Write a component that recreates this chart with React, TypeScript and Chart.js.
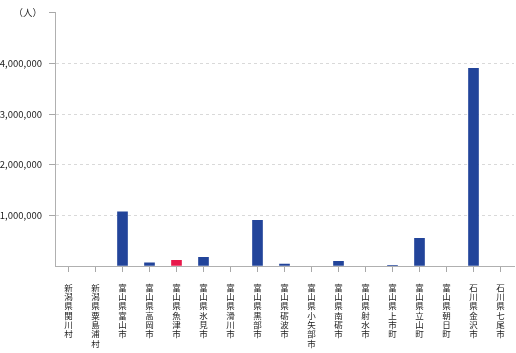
import React, { useEffect, useRef } from "react";
import { Chart, registerables } from "chart.js";

Chart.register(...registerables);

const categories = [
  "新潟県関川村",
  "新潟県粟島浦村",
  "富山県富山市",
  "富山県高岡市",
  "富山県魚津市",
  "富山県氷見市",
  "富山県滑川市",
  "富山県黒部市",
  "富山県砺波市",
  "富山県小矢部市",
  "富山県南砺市",
  "富山県射水市",
  "富山県上市町",
  "富山県立山町",
  "富山県朝日町",
  "石川県金沢市",
  "石川県七尾市",
];

const values = [
  0, 0, 1070000, 65000, 110000, 170000, 0, 900000, 40000, 0, 90000, 0, 15000,
  545000, 0, 3900000, 0,
];

const highlighted = "富山県魚津市";
const yTicks = [0, 1000000, 2000000, 3000000, 4000000, 5000000];
const unitLabel = "（人）";

const BLUE = "#22449A";
const RED = "#E8194B";

export default function App() {
  const ref = useRef<HTMLCanvasElement | null>(null);

  useEffect(() => {
    if (!ref.current) return;
    const chart = new Chart(ref.current, {
      type: "bar",
      data: {
        labels: categories.map((c) => Array.from(c)),
        datasets: [
          {
            data: values,
            backgroundColor: categories.map((c, i) =>
              values[i] === 0 ? "rgba(0,0,0,0)" : c === highlighted ? RED : BLUE
            ),
            barThickness: 10,
            borderWidth: 0,
            minBarLength: 0,
          },
        ],
      },
      options: {
        animation: false,
        responsive: false,
        maintainAspectRatio: false,
        layout: { padding: { top: 0, right: 2, left: 0, bottom: 0 } },
        plugins: {
          legend: { display: false },
          tooltip: { enabled: false },
        },
        scales: {
          x: {
            grid: {
              display: true,
              offset: false,
              drawOnChartArea: false,
              drawTicks: true,
              tickLength: 6,
              tickWidth: 1,
              tickColor: "#a8a8a8",
            },
            border: { display: true, color: "#b0b0b0", width: 1, z: 1 },
            ticks: {
              autoSkip: false,
              maxRotation: 0,
              minRotation: 0,
              padding: 11,
              color: "#222",
              font: { family: "'Noto Sans CJK JP'", size: 8.5, lineHeight: "9.3px" },
            },
            afterFit: (s: any) => {
              s.height = 87;
            },
          },
          y: {
            min: 0,
            max: 5000000,
            afterBuildTicks: (s: any) => {
              s.ticks = yTicks.map((v) => ({ value: v }));
            },
            grid: {
              drawTicks: true,
              tickLength: 6,
              tickColor: (ctx: any) =>
                ctx.tick && ctx.tick.value === 0 ? "transparent" : "#a8a8a8",
              color: (ctx: any) =>
                ctx.tick && (ctx.tick.value === 5000000 || ctx.tick.value === 0)
                  ? "transparent"
                  : "#d9d9d9",
            },
            border: { display: true, color: "#b0b0b0", width: 1, dash: [3, 3] },
            ticks: {
              padding: 7,
              color: "#222",
              font: { family: "'Noto Sans CJK JP'", size: 9.5 },
              callback: (v: any) =>
                Number(v) === 5000000
                  ? unitLabel
                  : Number(v) === 0
                  ? ""
                  : Number(v).toLocaleString("en-US"),
            },
            afterFit: (s: any) => {
              s.width = 55;
            },
          },
        },
      },
    });
    return () => chart.destroy();
  }, []);

  return (
    <div style={{ position: "absolute", left: 0, top: 0, width: 516, height: 353 }}>
      <canvas ref={ref} width={516} height={353} />
    </div>
  );
}
